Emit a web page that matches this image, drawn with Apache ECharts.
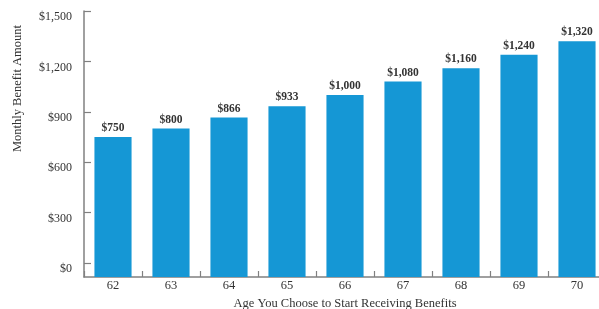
<!DOCTYPE html>
<html>
<head>
<meta charset="utf-8">
<script src="https://cdn.jsdelivr.net/npm/echarts@6/dist/echarts.min.js"></script>
<style>html,body{margin:0;padding:0;background:#fff}#c{width:599px;height:309px}</style>
</head>
<body>
<div id="c"></div>
<script>
const ages = ['62','63','64','65','66','67','68','69','70'];
const benefits = [750, 800, 866, 933, 1000, 1080, 1160, 1240, 1320];
const yTicks = [0, 300, 600, 900, 1200, 1500];
const yAxisTitle = 'Monthly Benefit Amount';
const xAxisTitle = 'Age You Choose to Start Receiving Benefits';

const FONT = '"Liberation Serif", "DejaVu Serif", serif';
const chart = echarts.init(document.getElementById('c'), null, {renderer: 'canvas'});
const fmt = v => '$' + Number(v).toLocaleString('en-US');

chart.setOption({
  animation: false,
  grid: {left: 84, right: -7, top: 11, bottom: 32, containLabel: false, outerBoundsMode: 'none'},
  xAxis: {
    type: 'category',
    data: ages,
    name: xAxisTitle,
    nameLocation: 'middle',
    nameGap: 17,
    nameTextStyle: {fontFamily: FONT, fontSize: 12.5, color: '#333'},
    axisLine: {onZero: false, lineStyle: {color: '#808080', width: 1.5}},
    axisTick: {show: true, inside: true, length: 6, lineStyle: {color: '#808080', width: 1.2}},
    axisLabel: {fontFamily: FONT, fontSize: 12.5, color: '#333', margin: 2}
  },
  yAxis: {
    type: 'value',
    min: -83,
    max: 1500,
    startValue: -83,
    splitLine: {show: false},
    axisLine: {show: true, onZero: false, lineStyle: {color: '#808080', width: 1.5}},
    axisTick: {show: true, inside: true, length: 7, customValues: yTicks, lineStyle: {color: '#808080', width: 1.2}},
    axisLabel: {
      customValues: yTicks,
      fontFamily: FONT, fontSize: 12, color: '#333', margin: 12,
      verticalAlign: 'top',
      formatter: v => fmt(v)
    }
  },
  graphic: [{
    type: 'text',
    left: 11,
    top: 25,
    rotation: Math.PI / 2,
    style: {text: yAxisTitle, fontFamily: FONT, fontSize: 12.5, fill: '#333'}
  }],
  series: [{
    type: 'bar',
    data: benefits,
    barWidth: '64%',
    itemStyle: {color: '#1597d5'},
    label: {
      show: true,
      position: 'top',
      distance: 3,
      fontFamily: FONT,
      fontWeight: 'bold',
      fontSize: 11.5,
      color: '#333',
      formatter: p => fmt(p.value)
    }
  }]
});
</script>
</body>
</html>
